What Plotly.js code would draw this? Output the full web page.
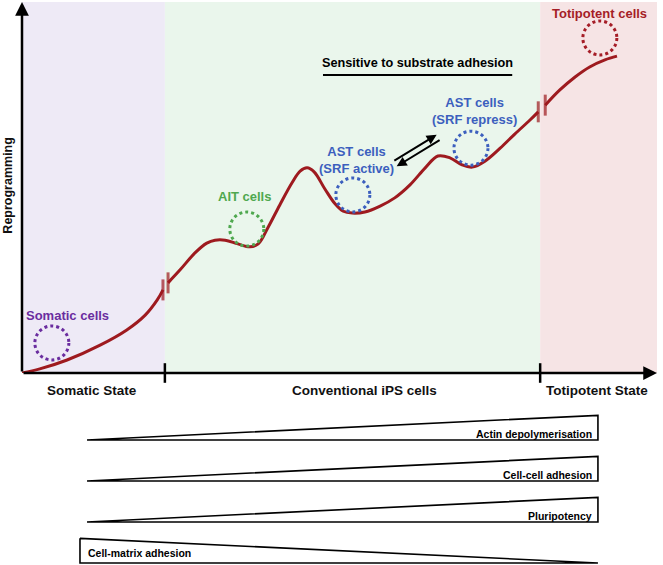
<!DOCTYPE html>
<html>
<head>
<meta charset="utf-8">
<script src="https://cdn.plot.ly/plotly-3.0.1.min.js"></script>
<style>html,body{margin:0;padding:0;background:#fff}#chart{width:663px;height:565px}</style>
</head>
<body>
<div id="chart"></div>
<script>
// ---- data (x: progression 0-100, y: reprogramming 0-100) ----
const stageBounds = [0, 22.5, 81.6, 100];
const stageNames = ["Somatic State", "Conventional iPS cells", "Totipotent State"];
const stageLabelX = [11.0, 53.9, 90.6];
const stageColors = ["#eeeaf6", "#eaf6ec", "#f6e4e5"];

const somaticX = [0, 2.8, 7.1, 12.3, 16.5, 19.4, 21.3, 22.2];
const somaticY = [0, 1.1, 3.5, 7.5, 11.6, 15.6, 19.7, 22.4];
const ipsX = [23.0, 24.9, 27.2, 29.1, 30.4, 32.0, 34.0, 35.9, 37.2, 38.7, 40.6, 42.5, 43.8, 44.9, 46.0, 47.7, 49.3, 50.6, 52.0, 54.0, 56.4, 58.7, 61.1, 63.5, 65.5, 67.4, 69.3, 70.9, 72.9, 75.3, 77.6, 80.0, 81.3];
const ipsY = [24.3, 27.8, 32.3, 35.0, 35.8, 35.8, 34.8, 34.0, 34.8, 39.1, 45.3, 51.2, 54.4, 55.3, 54.2, 49.6, 45.6, 43.6, 43.1, 43.4, 45.0, 47.2, 50.7, 55.3, 58.5, 58.0, 56.1, 55.5, 57.1, 60.6, 64.4, 68.2, 70.4];
const totiX = [82.4, 84.7, 87.1, 89.4, 91.8, 93.7];
const totiY = [72.2, 76.3, 79.8, 82.5, 84.4, 85.4];

const cellNames = ["Somatic cells", "AIT cells", "AST cells<br>(SRF active)", "AST cells<br>(SRF repress)", "Totipotent cells"];
const cellX = [4.7, 35.4, 52.1, 70.7, 91.0];
const cellY = [8.1, 38.8, 48.0, 60.6, 90.3];
const cellLabelX = [7.2, 35.1, 52.6, 71.2, 91.0];
const cellLabelY = [15.4, 47.7, 57.3, 70.6, 97.0];
const cellColors = ["#6a2d9f", "#4fa84f", "#3c5fbe", "#3c5fbe", "#a51d27"];

const sensitiveLabel = "Sensitive to substrate adhesion";
const sensitiveRange = [47.4, 77.2];
const sensitiveY = 80.3;

const switchArrowUp = {from: [58.4, 57.0], to: [65.3, 64.2]};
const switchArrowDown = {from: [66.0, 63.0], to: [59.0, 55.7]};

// gradient bars
const gradNames = ["Actin depolymerisation", "Cell-cell adhesion", "Pluripotency", "Cell-matrix adhesion"];
const gradDir = ["up", "up", "up", "down"];
const gradRow = [3, 2, 1, 0];
const gradStart = [10.24, 10.24, 10.24, 9.13];
const gradEnd = 90.7;
const gradThick = 0.6;

// ---- traces ----
const red = "#9e1a1f";
const traces = [];
function seg(xs, ys, capsStart, capsEnd) {
  const sizes = xs.map((_, i) => (i === 0 && capsStart) || (i === xs.length - 1 && capsEnd) ? 15 : 0);
  traces.push({
    x: xs, y: ys, type: "scatter", mode: "lines+markers", xaxis: "x", yaxis: "y",
    line: {color: red, width: 3, shape: "spline", smoothing: 1},
    marker: {symbol: "line-ns", size: sizes, color: red, line: {color: red, width: 3}},
    hoverinfo: "skip", showlegend: false, cliponaxis: false
  });
}
seg(somaticX, somaticY, false, true);
seg(ipsX, ipsY, true, true);
seg(totiX, totiY, true, false);

// stage boundary ticks on x axis
traces.push({
  x: stageBounds.slice(1, 3), y: [0, 0], type: "scatter", mode: "markers", xaxis: "x", yaxis: "y",
  marker: {symbol: "line-ns", size: 14, line: {color: "#000", width: 2.5}},
  hoverinfo: "skip", showlegend: false, cliponaxis: false
});

// gradient wedges
for (let i = 0; i < gradNames.length; i++) {
  const b = gradRow[i], s = gradStart[i];
  let xs, ys;
  if (gradDir[i] === "up") { xs = [s, gradEnd, gradEnd, s]; ys = [b, b + gradThick, b, b]; }
  else { xs = [s, s, gradEnd, s]; ys = [b + gradThick, b, b, b + gradThick]; }
  traces.push({
    x: xs, y: ys, type: "scatter", mode: "lines", fill: "toself", fillcolor: "#ffffff",
    line: {color: "#000", width: 1.6}, xaxis: "x", yaxis: "y2", hoverinfo: "skip", showlegend: false
  });
}

// ---- layout ----
const shapes = [];
for (let i = 0; i < 3; i++) {
  shapes.push({type: "rect", xref: "x", yref: "y", x0: stageBounds[i], x1: stageBounds[i + 1], y0: 0, y1: 100,
    fillcolor: stageColors[i], line: {width: 0}, layer: "below"});
}
for (let i = 0; i < cellX.length; i++) {
  shapes.push({type: "circle", xref: "x", yref: "y", xsizemode: "pixel", ysizemode: "pixel",
    xanchor: cellX[i], yanchor: cellY[i], x0: -17, x1: 17, y0: -17, y1: 17,
    line: {color: cellColors[i], width: 3, dash: "dot"}});
}
shapes.push({type: "line", xref: "x", yref: "y", x0: sensitiveRange[0], x1: sensitiveRange[1], y0: sensitiveY, y1: sensitiveY,
  line: {color: "#000", width: 2}});

const F = "Liberation Sans, Arial, sans-serif";
const annotations = [];
annotations.push({x: 0, y: 100, ax: 0, ay: 0, xref: "x", yref: "y", axref: "x", ayref: "y", text: "",
  showarrow: true, arrowhead: 2, arrowsize: 1.1, arrowwidth: 2.5, arrowcolor: "#000"});
annotations.push({x: 100, y: 0, ax: 0, ay: 0, xref: "x", yref: "y", axref: "x", ayref: "y", text: "",
  showarrow: true, arrowhead: 2, arrowsize: 1.1, arrowwidth: 2.5, arrowcolor: "#000"});
[switchArrowUp, switchArrowDown].forEach(a => annotations.push({
  x: a.to[0], y: a.to[1], ax: a.from[0], ay: a.from[1], xref: "x", yref: "y", axref: "x", ayref: "y", text: "",
  showarrow: true, arrowhead: 2, arrowsize: 1, arrowwidth: 2, arrowcolor: "#000"}));
for (let i = 0; i < stageNames.length; i++) {
  annotations.push({x: stageLabelX[i], y: 0, xref: "x", yref: "y", yshift: -17, text: "<b>" + stageNames[i] + "</b>",
    showarrow: false, font: {family: F, size: 13.5, color: "#111"}});
}
annotations.push({x: 0, xref: "paper", xanchor: "center", xshift: -14, y: 50.5, yref: "y", yanchor: "middle",
  text: "<b>Reprogramming</b>", textangle: -90, showarrow: false, font: {family: F, size: 12.5, color: "#111"}});
for (let i = 0; i < cellNames.length; i++) {
  annotations.push({x: cellLabelX[i], y: cellLabelY[i], xref: "x", yref: "y", text: "<b>" + cellNames[i] + "</b>",
    showarrow: false, font: {family: F, size: 13, color: cellColors[i]}});
}
annotations.push({x: (sensitiveRange[0] + sensitiveRange[1]) / 2, y: 83.6, xref: "x", yref: "y", text: "<b>" + sensitiveLabel + "</b>",
  showarrow: false, font: {family: F, size: 12.7, color: "#000"}});
for (let i = 0; i < gradNames.length; i++) {
  const up = gradDir[i] === "up";
  annotations.push({x: up ? gradEnd - 0.6 : gradStart[i] + 1.0, y: gradRow[i] + (up ? 0.15 : 0.24), xref: "x", yref: "y2",
    xanchor: up ? "right" : "left", yanchor: "middle", text: "<b>" + gradNames[i] + "</b>",
    showarrow: false, font: {family: F, size: 10.5, color: "#000"}});
}

const layout = {
  width: 663, height: 565, margin: {l: 22, r: 6, t: 0, b: 0},
  paper_bgcolor: "#ffffff", plot_bgcolor: "rgba(0,0,0,0)",
  xaxis: {range: [0, 100], visible: false, fixedrange: true, anchor: "y"},
  yaxis: {range: [0, 100], domain: [0.33982, 0.99646], visible: false, fixedrange: true},
  yaxis2: {range: [-0.05, 3.95], domain: [0, 0.2903], visible: false, fixedrange: true, anchor: "x"},
  shapes: shapes, annotations: annotations, showlegend: false
};
Plotly.newPlot("chart", traces, layout, {staticPlot: true, displayModeBar: false});
</script>
</body>
</html>
